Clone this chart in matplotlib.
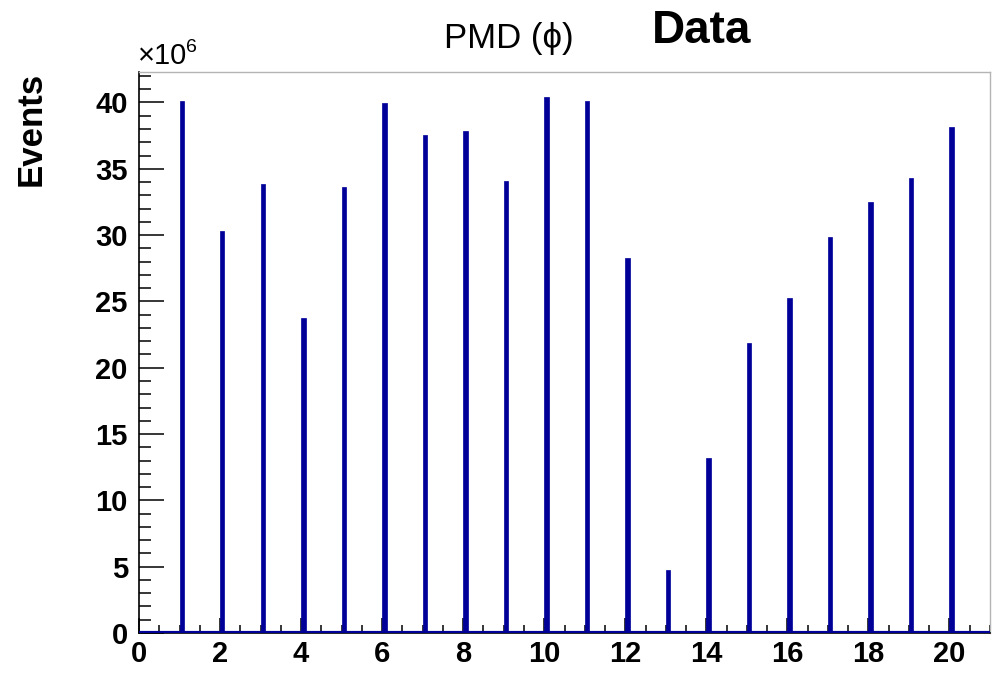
import numpy as np
import matplotlib.pyplot as plt
from matplotlib.ticker import MultipleLocator

# bin position and event counts (in units of 10^6)
positions = [1, 2, 3, 4, 5, 6, 7, 8, 9, 10, 11, 12, 13, 14, 15, 16, 17, 18, 19, 20]
events = [40.1, 30.3, 33.85, 23.75, 33.6, 39.95, 37.55, 37.85, 34.05, 40.4,
          40.1, 28.25, 4.75, 13.2, 21.85, 25.25, 29.85, 32.5, 34.3, 38.15]

blue = '#000099'
plt.rcParams['font.family'] = ['Liberation Sans', 'DejaVu Sans']

fig = plt.figure(figsize=(9.97, 6.83), dpi=100)
ax = fig.add_axes([0.1394, 0.0732, 0.993 - 0.1394, 0.8946 - 0.0732])

ax.bar(positions, events, width=0.11, align='edge', color=blue, edgecolor=blue, linewidth=0.5, zorder=3)
ax.plot([0, 21], [0, 0], color=blue, linewidth=3, zorder=4, solid_capstyle='butt')

ax.set_xlim(0, 21)
ax.set_ylim(0, 42.3)

ax.xaxis.set_major_locator(MultipleLocator(2))
ax.xaxis.set_minor_locator(MultipleLocator(0.5))
ax.yaxis.set_major_locator(MultipleLocator(5))
ax.yaxis.set_minor_locator(MultipleLocator(1))

ax.tick_params(axis='x', which='major', direction='in', length=11, width=1.1, pad=5,
               labelsize=21)
ax.tick_params(axis='x', which='minor', direction='in', length=6, width=1.1)
ax.tick_params(axis='y', which='major', direction='in', length=18, width=1.1, pad=8,
               labelsize=21)
ax.tick_params(axis='y', which='minor', direction='in', length=8.6, width=1.1)
for lbl in ax.get_xticklabels() + ax.get_yticklabels():
    lbl.set_fontweight('bold')

for side in ['top', 'right']:
    ax.spines[side].set_color('#b4b4b4')
    ax.spines[side].set_linewidth(1)
for side in ['left', 'bottom']:
    ax.spines[side].set_color('black')
    ax.spines[side].set_linewidth(1.2)

fig.text(0.031, 0.8946, 'Events', rotation=90, ha='center', va='top',
         fontsize=25, fontweight='bold')
fig.text(0.138, 0.898, '\u00d710', ha='left', va='bottom', fontsize=21)
fig.text(0.1865, 0.918, '6', ha='left', va='bottom', fontsize=14)
fig.text(0.51, 0.92, 'PMD (\u03d5)', ha='center', va='bottom', fontsize=25)
fig.text(0.704, 0.922, 'Data', ha='center', va='bottom', fontsize=33, fontweight='bold')

fig.savefig('out.png', dpi=100)
